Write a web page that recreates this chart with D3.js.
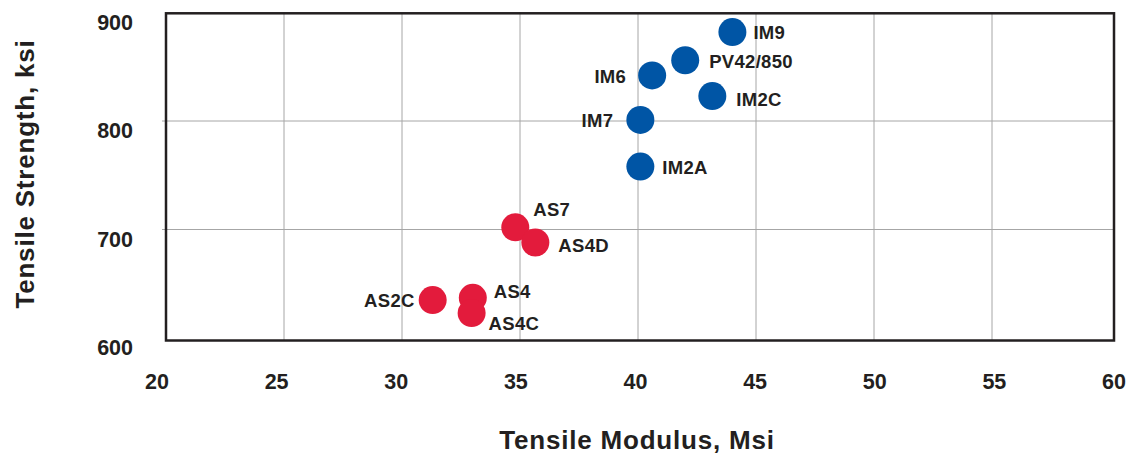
<!DOCTYPE html>
<html>
<head>
<meta charset="utf-8">
<script src="https://cdn.jsdelivr.net/npm/d3@7"></script>
<style>
  body { margin: 0; background: #fff; }
  text { font-family: "Liberation Sans", Arial, Helvetica, sans-serif; font-weight: bold; fill: #231f20; }
</style>
</head>
<body>
<div id="chartContainer"></div>
<script>
// fibre grades: modulus (Msi) vs strength (ksi)
var imNames = ['IM9', 'PV42/850', 'IM6', 'IM2C', 'IM7', 'IM2A'];
var imModulus = [44.0, 42.0, 40.6, 43.15, 40.1, 40.1];
var imStrength = [882, 856, 842, 823, 801, 758];

var asNames = ['AS7', 'AS4D', 'AS2C', 'AS4', 'AS4C'];
var asModulus = [34.8, 35.65, 31.3, 33.0, 32.95];
var asStrength = [702, 688, 635, 637, 623];

var xTicks = [20, 25, 30, 35, 40, 45, 50, 55, 60];
var yTicks = [600, 700, 800, 900];

var width = 1135,
    height = 458,
    blue = '#0055a5',
    red = '#e31b3c',
    ink = '#231f20',
    gridcolor = '#a6a6a6',
    radius = 14;

// label offsets from the dot centre: [dx, dy, anchor]
var labelPos = {
    'IM9': [21, 0, 'start'],
    'PV42/850': [24, 1, 'start'],
    'IM6': [-26, 1, 'end'],
    'IM2C': [24, 3, 'start'],
    'IM7': [-27, 1, 'end'],
    'IM2A': [22, 1, 'start'],
    'AS7': [18, -18, 'start'],
    'AS4D': [23, 3, 'start'],
    'AS2C': [-18, 0, 'end'],
    'AS4': [21, -6, 'start'],
    'AS4C': [17, 10, 'start']
};

var x = d3.scaleLinear().domain([20, 60]).range([166, 1110]);
var y = d3.scaleLinear().domain([600, 900]).range([338, 12.5]);
// the printed tick numbers sit on a slightly wider spacing than the grid
var xLab = x.copy().range([157, 1114]);

var svg = d3.select('#chartContainer').append('svg')
    .attr('width', width)
    .attr('height', height);

// grid
svg.append('g').selectAll('line')
    .data(xTicks.slice(1, -1))
    .enter().append('line')
    .attr('x1', function (d) { return x(d); })
    .attr('x2', function (d) { return x(d); })
    .attr('y1', y(900)).attr('y2', 340)
    .attr('stroke', gridcolor).attr('stroke-width', 1);

svg.append('g').selectAll('line')
    .data(yTicks.slice(1, -1))
    .enter().append('line')
    .attr('x1', 162).attr('x2', 1114)
    .attr('y1', function (d) { return y(d); })
    .attr('y2', function (d) { return y(d); })
    .attr('stroke', gridcolor).attr('stroke-width', 1);

// frame
svg.append('rect')
    .attr('x', x(20)).attr('y', 13.3)
    .attr('width', 1114 - x(20)).attr('height', 340.5 - 13.3)
    .attr('fill', 'none').attr('stroke', ink).attr('stroke-width', 2.5);

// tick labels
svg.append('g').selectAll('text')
    .data(xTicks)
    .enter().append('text')
    .attr('x', function (d) { return xLab(d); })
    .attr('y', 389)
    .attr('text-anchor', 'middle')
    .attr('font-size', 21.5)
    .text(function (d) { return d; });

svg.append('g').selectAll('text')
    .data(yTicks)
    .enter().append('text')
    .attr('x', 133)
    .attr('y', function (d) { return y(d) + 17; })
    .attr('text-anchor', 'end')
    .attr('font-size', 21.5)
    .text(function (d) { return d; });

// axis titles
svg.append('text')
    .attr('x', 637).attr('y', 449)
    .attr('text-anchor', 'middle')
    .attr('font-size', 26)
    .attr('letter-spacing', 0.8)
    .text('Tensile Modulus, Msi');

svg.append('text')
    .attr('transform', 'translate(34,174) rotate(-90)')
    .attr('text-anchor', 'middle')
    .attr('font-size', 26)
    .attr('letter-spacing', 0.8)
    .text('Tensile Strength, ksi');

function drawGroup(names, mod, str, color) {
    var pts = names.map(function (n, i) {
        return { name: n, x: mod[i], y: str[i] };
    });
    var g = svg.append('g');
    g.selectAll('circle')
        .data(pts)
        .enter().append('circle')
        .attr('cx', function (d) { return x(d.x); })
        .attr('cy', function (d) { return y(d.y); })
        .attr('r', radius)
        .attr('fill', color);
    g.selectAll('text')
        .data(pts)
        .enter().append('text')
        .attr('x', function (d) { return x(d.x) + labelPos[d.name][0]; })
        .attr('y', function (d) { return y(d.y) + labelPos[d.name][1] + 6.5; })
        .attr('text-anchor', function (d) { return labelPos[d.name][2]; })
        .attr('font-size', 18.5)
        .attr('letter-spacing', 0.3)
        .text(function (d) { return d.name; });
}

drawGroup(imNames, imModulus, imStrength, blue);
drawGroup(asNames, asModulus, asStrength, red);
</script>
</body>
</html>
